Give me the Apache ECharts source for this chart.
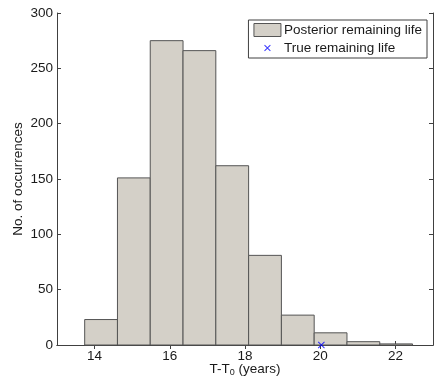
<!DOCTYPE html>
<html>
<head>
<meta charset="utf-8">
<script src="https://cdn.jsdelivr.net/npm/echarts@6/dist/echarts.min.js"></script>
<style>
  html, body { margin: 0; padding: 0; background: #fff; }
  #chart { width: 436px; height: 377px; }
</style>
</head>
<body>
<div id="chart"></div>
<script>
// histogram bins (years)
var binStart = 13.736;
var binWidth = 0.872;
var counts = [23, 151, 275, 266, 162, 81, 27, 11, 3, 1];
// true remaining life marker
var trueLife = [[20.03, 0]];
var xTicks = [14, 16, 18, 20, 22];

var binData = counts.map(function (c, i) {
  return [binStart + i * binWidth, binStart + (i + 1) * binWidth, c];
});

var axisCol = '#404040';
var txtCol = '#1a1a1a';
var fontFam = 'Liberation Sans, Arial, sans-serif';
var crossPath = 'path://M0,1L1,0L5,4L9,0L10,1L6,5L10,9L9,10L5,6L1,10L0,9L4,5Z';
// same cross with empty margin so the legend icon stays small
var crossIcon = 'path://M-5,-5M15,15M0,1L1,0L5,4L9,0L10,1L6,5L10,9L9,10L5,6L1,10L0,9L4,5Z';

var chart = echarts.init(document.getElementById('chart'));

var option = {
  animation: false,
  textStyle: { fontFamily: fontFam },
  grid: { left: 57, top: 13, right: 3, bottom: 32, outerBoundsMode: 'none', containLabel: false },
  legend: {
    orient: 'vertical',
    right: 9,
    top: 20,
    padding: [3, 5, 3, 5],
    itemGap: 4,
    itemWidth: 27,
    itemHeight: 13,
    backgroundColor: '#fff',
    borderColor: axisCol,
    borderWidth: 1,
    borderRadius: 0,
    textStyle: { fontSize: 13.5, color: txtCol, padding: [0, 0, 0, -2] },
    data: [
      { name: 'Posterior remaining life', icon: 'rect',
        itemStyle: { color: '#d4d0c8', borderColor: '#555', borderWidth: 1 } },
      { name: 'True remaining life', icon: crossIcon,
        itemStyle: { color: '#0000ff', borderWidth: 0 } }
    ]
  },
  xAxis: [{
    type: 'value',
    min: 13,
    max: 23,
    name: 'T-T{sub|0} (years)',
    nameLocation: 'middle',
    nameGap: 16,
    nameMoveOverlap: false,
    nameTextStyle: {
      fontSize: 13.5, color: txtCol, verticalAlign: 'top',
      rich: { sub: { fontSize: 9, verticalAlign: 'bottom', padding: [7, 0, 0, 0], color: txtCol } }
    },
    axisLine: { onZero: false, lineStyle: { color: axisCol } },
    axisTick: { inside: true, length: 4, customValues: xTicks, lineStyle: { color: axisCol } },
    axisLabel: { customValues: xTicks, fontSize: 13.5, color: txtCol, margin: 4 },
    splitLine: { show: false }
  }, {
    type: 'value',
    position: 'top',
    min: 13,
    max: 23,
    axisLine: { lineStyle: { color: axisCol } },
    axisTick: { inside: true, length: 4, customValues: xTicks, lineStyle: { color: axisCol } },
    axisLabel: { show: false, customValues: xTicks },
    splitLine: { show: false }
  }],
  yAxis: [{
    type: 'value',
    min: 0,
    max: 300,
    interval: 50,
    name: 'No. of occurrences',
    nameLocation: 'middle',
    nameGap: 32,
    nameMoveOverlap: false,
    nameTextStyle: { fontSize: 13.5, color: txtCol },
    axisLine: { show: true, lineStyle: { color: axisCol } },
    axisTick: { show: true, inside: true, length: 4, lineStyle: { color: axisCol } },
    axisLabel: { fontSize: 13.5, color: txtCol, margin: 4 },
    splitLine: { show: false }
  }, {
    type: 'value',
    position: 'right',
    min: 0,
    max: 300,
    interval: 50,
    axisLine: { show: true, lineStyle: { color: axisCol } },
    axisTick: { show: true, inside: true, length: 4, lineStyle: { color: axisCol } },
    axisLabel: { show: false },
    splitLine: { show: false }
  }],
  series: [{
    name: 'Posterior remaining life',
    type: 'custom',
    xAxisIndex: 0,
    yAxisIndex: 0,
    data: binData,
    encode: { x: [0, 1], y: 2 },
    renderItem: function (params, api) {
      var p0 = api.coord([api.value(0), api.value(2)]);
      var p1 = api.coord([api.value(1), 0]);
      return {
        type: 'rect',
        shape: { x: p0[0], y: p0[1], width: p1[0] - p0[0], height: p1[1] - p0[1] },
        style: { fill: '#d4d0c8', stroke: '#555', lineWidth: 1 }
      };
    },
    itemStyle: { color: '#d4d0c8' }
  }, {
    name: 'True remaining life',
    type: 'scatter',
    xAxisIndex: 0,
    yAxisIndex: 0,
    data: trueLife,
    symbol: crossPath,
    symbolSize: 7,
    clip: false,
    itemStyle: { color: '#0000ff' },
    z: 5
  }]
};

chart.setOption(option);
</script>
</body>
</html>
